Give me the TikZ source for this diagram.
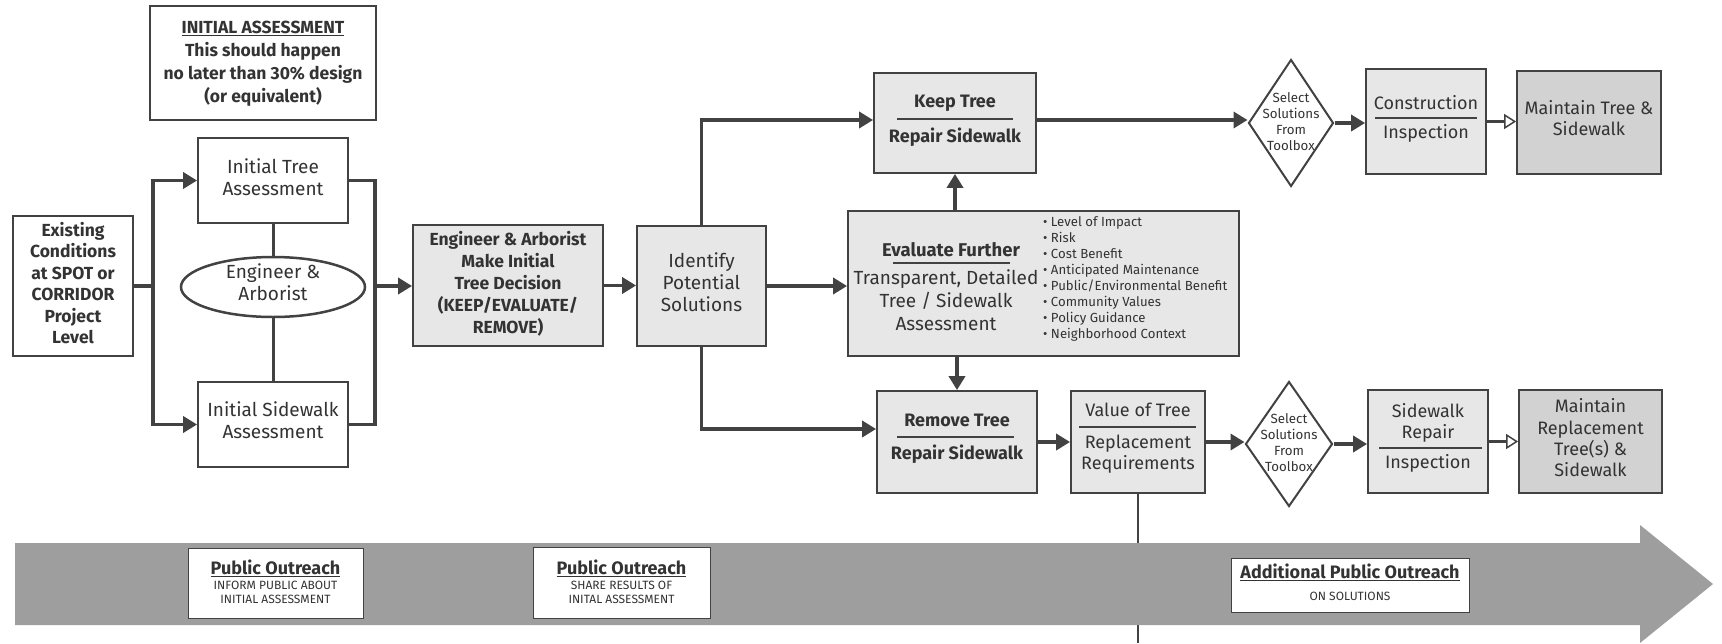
\documentclass[tikz,border=0pt]{standalone}
\usepackage{fontspec}
\setmainfont{Fira Sans}
\usetikzlibrary{arrows.meta,shapes.geometric,calc}
\definecolor{ink}{HTML}{333333}
\definecolor{ln}{HTML}{424242}
\definecolor{boxg}{HTML}{E7E7E7}
\definecolor{darkg}{HTML}{D2D2D2}
\definecolor{bandg}{HTML}{9E9E9E}
\begin{document}
\begin{tikzpicture}[x=1pt,y=-1pt,
  box/.style={draw=ln,line width=1.8pt,inner sep=0pt},
  obox/.style={draw=ln,line width=1pt,fill=white,inner sep=0pt},
  txt/.style={text=ink,align=center,inner sep=0pt},
  body/.style={txt,font=\fontsize{19}{22}\selectfont},
  bbody/.style={txt,font=\fontsize{17.5}{21.5}\selectfont\bfseries},
  hb/.style={txt,font=\fontsize{18}{21}\selectfont\bfseries},
  hr/.style={txt,font=\fontsize{18}{21}\selectfont},
  small/.style={txt,font=\fontsize{13.3}{16}\selectfont},
  sub/.style={txt,font=\fontsize{12}{14}\selectfont},
  conn/.style={draw=ln,line width=3.5pt},
  thin/.style={draw=ln,line width=3pt},
  rulel/.style={draw=ln,line width=1.5pt},
  arr/.style={conn,-{Triangle[length=14pt,width=16pt]}},
  oarr/.style={draw=ln,line width=3pt,-{Triangle[length=12pt,width=15pt,fill=white,line width=1.5pt]}}
]
\useasboundingbox (0,0) rectangle (1722,643);
\fill[white] (0,0) rectangle (1722,643);

\coordinate (vb) at (1138,643);

% ---- boxes
\node[box,fill=white,minimum width=226pt,minimum height=114pt] (assess) at (263,63) {};
\node[txt,font=\fontsize{17.5}{23}\selectfont\bfseries] (assesst) at (263,64)
  {\underline{INITIAL ASSESSMENT}\\This should happen\\no later than 30\% design\\(or equivalent)};

\node[box,fill=white,minimum width=120pt,minimum height=140pt] (exist) at (73,286) {};
\node[bbody] (existt) at (73,283) {Existing\\Conditions\\at SPOT or\\CORRIDOR\\Project\\Level};

\node[box,fill=white,minimum width=150pt,minimum height=85pt] (itree) at (273,180.5) {};
\node[body] (itreet) at (273,177) {Initial Tree\\Assessment};

\node[box,fill=white,minimum width=150pt,minimum height=85pt] (isw) at (273,424.5) {};
\node[body] (iswt) at (273,420) {Initial Sidewalk\\Assessment};

\node[draw=ln,line width=2.5pt,fill=white,ellipse,minimum width=184pt,minimum height=60pt,inner sep=0pt] (eng) at (273,287) {};
\node[body] (engt) at (273,282) {Engineer \&\\Arborist};

\node[box,fill=boxg,minimum width=190pt,minimum height=121pt] (ea) at (508,285.5) {};
\node[txt,font=\fontsize{17.5}{22}\selectfont\bfseries] (eat) at (508,284) {Engineer \& Arborist\\Make Initial\\Tree Decision\\(KEEP/EVALUATE/\\REMOVE)};

\node[box,fill=boxg,minimum width=129pt,minimum height=120pt] (ident) at (701.5,286) {};
\node[body] (identt) at (701.5,282) {Identify\\Potential\\Solutions};

\node[box,fill=boxg,minimum width=391pt,minimum height=145pt] (eval) at (1043.5,283.5) {};
\node[txt,font=\fontsize{18.5}{22}\selectfont\bfseries] (evalh) at (951,250) {Evaluate Further};
\draw[rulel] (893,263) -- (1010,263);
\node[txt,font=\fontsize{19}{23}\selectfont] (evalt) at (946,300) {Transparent, Detailed\\Tree / Sidewalk\\Assessment};
\node[txt,align=left,anchor=west,font=\fontsize{13.2}{15.9}\selectfont] (evall) at (1043,279)
  {\textbullet\ Level of Impact\\\textbullet\ Risk\\\textbullet\ Cost Benefit\\\textbullet\ Anticipated Maintenance\\\textbullet\ Public/Environmental Benefit\\\textbullet\ Community Values\\\textbullet\ Policy Guidance\\\textbullet\ Neighborhood Context};

\node[box,fill=boxg,minimum width=162pt,minimum height=100pt] (keep) at (955,123) {};
\node[hb] (keepa) at (955,103) {Keep Tree};
\draw[rulel] (897,119) -- (1013,119);
\node[hb] (keepb) at (955,137) {Repair Sidewalk};

\node[box,fill=boxg,minimum width=160pt,minimum height=102pt] (remove) at (957,442) {};
\node[hb] (removea) at (957,420) {Remove Tree};
\draw[rulel] (897,437) -- (1014,437);
\node[hb] (removeb) at (957,454) {Repair Sidewalk};

\node[box,fill=boxg,minimum width=134pt,minimum height=102pt] (value) at (1138,442) {};
\node[hr] (valuea) at (1138,410) {Value of Tree};
\draw[rulel] (1079,427) -- (1196,427);
\node[hr] (valueb) at (1138,454) {Replacement\\Requirements};

\node[draw=ln,line width=2pt,fill=white,diamond,minimum width=85pt,minimum height=127pt,inner sep=0pt] (d1) at (1291,123) {};
\node[small] (d1t) at (1291,122) {Select\\Solutions\\From\\Toolbox};
\node[draw=ln,line width=2pt,fill=white,diamond,minimum width=87pt,minimum height=125pt,inner sep=0pt] (d2) at (1289,444) {};
\node[small] (d2t) at (1289,443) {Select\\Solutions\\From\\Toolbox};

\node[box,fill=boxg,minimum width=120pt,minimum height=105pt] (cons) at (1426,121.5) {};
\node[hr] (consa) at (1426,103) {Construction};
\draw[rulel] (1375,118) -- (1477,118);
\node[hr] (consb) at (1426,133) {Inspection};

\node[box,fill=darkg,minimum width=144pt,minimum height=103pt] (mt1) at (1589,122.5) {};
\node[hr] (mt1t) at (1589,118) {Maintain Tree \&\\Sidewalk};

\node[box,fill=boxg,minimum width=120pt,minimum height=103pt] (swr) at (1428,441.5) {};
\node[hr] (swra) at (1428,423) {Sidewalk\\Repair};
\draw[rulel] (1379,448) -- (1482,448);
\node[hr] (swrb) at (1428,463) {Inspection};

\node[box,fill=darkg,minimum width=143pt,minimum height=103pt] (mt2) at (1590.5,441.5) {};
\node[txt,font=\fontsize{18}{21.3}\selectfont] (mt2t) at (1590.5,438) {Maintain\\Replacement\\Tree(s) \&\\Sidewalk};

% ---- connectors
\coordinate (jl) at (153,286);
\coordinate (jr) at (375,286);
\draw[conn] (exist.east) -- (jl);
\draw[arr] (jl) |- (itree.west);
\draw[arr] (jl) |- (isw.west);
\draw[conn] (itree.east) -| (jr) |- (isw.east);
\draw[arr] (jr) -- (jr -| ea.west);
\draw[thin] (itree.south) -- (eng.north);
\draw[thin] (eng.south) -- (isw.north);
\draw[arr] (ea.east) -- (ea.east -| ident.west);
\draw[arr] (ident.north) |- ($(keep.west)+(0,-3)$);
\draw[arr] (ident.south) |- ($(remove.west)+(0,-13)$);
\draw[arr] (ident.east) -- (ident.east -| eval.west);
\draw[arr] (keep.south |- eval.north) -- (keep.south);
\draw[arr] (remove.north |- eval.south) -- (remove.north);
\draw[arr] ($(keep.east)+(0,-3)$) -- ($(keep.east -| d1.west)+(0,-3)$);
\draw[arr] (d1.east) -- (d1.east -| cons.west);
\draw[oarr] (cons.east) -- (cons.east -| mt1.west);
\draw[arr] (remove.east) -- (remove.east -| value.west);
\draw[arr] (value.east) -- (value.east -| d2.west);
\draw[arr] (d2.east) -- (d2.east -| swr.west);
\draw[oarr] (swr.east) -- (swr.east -| mt2.west);
\draw[draw=ln,line width=2.5pt] (value.south) -- (vb);

% ---- outreach band
\fill[bandg] (15,543) -- (1640,543) -- (1640,525) -- (1713,584) -- (1640,643) -- (1640,625) -- (15,625) -- cycle;

\node[obox,minimum width=175pt,minimum height=70pt] (po1) at (275.5,583) {};
\node[hb] (po1h) at (275.5,568) {\underline{Public Outreach}};
\node[sub] (po1s) at (275.5,592) {INFORM PUBLIC ABOUT\\INITIAL ASSESSMENT};

\node[obox,minimum width=177pt,minimum height=71pt] (po2) at (621.5,582.5) {};
\node[hb] (po2h) at (621.5,568) {\underline{Public Outreach}};
\node[sub] (po2s) at (621.5,592) {SHARE RESULTS OF\\INITAL ASSESSMENT};

\node[obox,minimum width=238pt,minimum height=54pt] (po3) at (1350,585) {};
\node[hb] (po3h) at (1350,572) {\underline{Additional Public Outreach}};
\node[sub] (po3s) at (1350,596) {ON SOLUTIONS};
\end{tikzpicture}
\end{document}
